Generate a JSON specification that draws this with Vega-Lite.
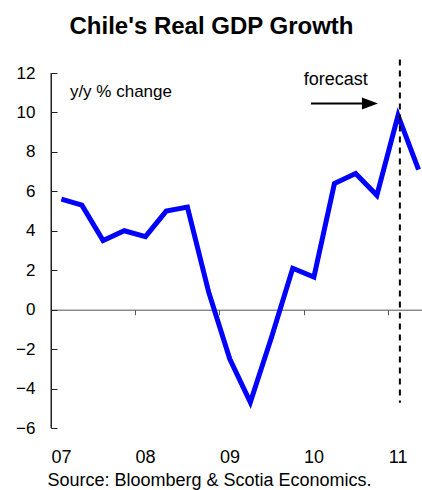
{
  "$schema": "https://vega.github.io/schema/vega-lite/v6.json",
  "width": 371,
  "height": 355,
  "autosize": {"type": "none"},
  "padding": {"left": 51, "top": 73, "right": 0, "bottom": 62},
  "background": "white",
  "config": {"view": {"stroke": null}, "font": "Liberation Sans", "axis": {"grid": false}},
  "title": {"text": "Chile's Real GDP Growth", "fontSize": 24, "fontWeight": "bold", "color": "black", "anchor": "middle", "dx": -25, "offset": 20},
  "resolve": {"axis": {"x": "independent", "y": "independent"}},
  "layer": [
    {
      "data": {"values": [
        {"quarter": "2007-02-15", "gdp": 5.6},
        {"quarter": "2007-05-15", "gdp": 5.3},
        {"quarter": "2007-08-15", "gdp": 3.5},
        {"quarter": "2007-11-15", "gdp": 4.0},
        {"quarter": "2008-02-15", "gdp": 3.7},
        {"quarter": "2008-05-15", "gdp": 5.0},
        {"quarter": "2008-08-15", "gdp": 5.2},
        {"quarter": "2008-11-15", "gdp": 0.9},
        {"quarter": "2009-02-15", "gdp": -2.5},
        {"quarter": "2009-05-15", "gdp": -4.7},
        {"quarter": "2009-08-15", "gdp": -1.4},
        {"quarter": "2009-11-15", "gdp": 2.1},
        {"quarter": "2010-02-15", "gdp": 1.65},
        {"quarter": "2010-05-15", "gdp": 6.4},
        {"quarter": "2010-08-15", "gdp": 6.9},
        {"quarter": "2010-11-15", "gdp": 5.8},
        {"quarter": "2011-02-15", "gdp": 9.85},
        {"quarter": "2011-05-15", "gdp": 7.1}
      ]},
      "mark": {"type": "line", "color": "#0000FF", "strokeWidth": 5, "strokeJoin": "miter"},
      "encoding": {
        "x": {
          "field": "quarter", "type": "temporal",
          "scale": {"domain": [{"year": 2007, "month": 1, "date": 1}, {"year": 2011, "month": 5, "date": 30}], "nice": false},
          "axis": {
            "orient": "bottom",
            "values": [{"year": 2007, "month": 1, "date": 1}, {"year": 2008, "month": 1, "date": 1}, {"year": 2009, "month": 1, "date": 1}, {"year": 2010, "month": 1, "date": 1}, {"year": 2011, "month": 1, "date": 1}],
            "format": "%y",
            "offset": -118.3,
            "domain": true,
            "ticks": true,
            "domainColor": "#555555",
            "tickColor": "#555555",
            "tickSize": 5,
            "labelOffset": 10,
            "labelPadding": 134,
            "labelFontSize": 18,
            "labelColor": "black",
            "labelFlush": false,
            "labelOverlap": false,
            "title": "Source: Bloomberg & Scotia Economics.",
            "titleFontSize": 18,
            "titleFontWeight": "normal",
            "titleColor": "black",
            "titleX": 158,
            "titleY": 171,
            "titleBaseline": "middle",
            "titleAlign": "center"
          }
        },
        "y": {
          "field": "gdp", "type": "quantitative",
          "scale": {"domain": [-6, 12], "nice": false, "zero": false},
          "axis": {
            "orient": "left",
            "values": [-6, -4, -2, 0, 2, 4, 6, 8, 10, 12],
            "title": null,
            "domain": true,
            "ticks": true,
            "domainColor": "#222222",
            "domainWidth": 1,
            "tickColor": "#222222",
            "tickWidth": 1,
            "tickSize": -6,
            "labelPadding": 22,
            "labelFontSize": 17,
            "labelColor": "black",
            "labelOverlap": false,
            "labelFlush": false
          }
        }
      }
    },
    {
      "data": {"values": [{"label": "y axis line"}]},
      "mark": {"type": "rule", "strokeWidth": 1, "color": "#222222"},
      "encoding": {
        "x": {"datum": {"year": 2007, "month": 1, "date": 1}, "type": "temporal", "axis": null},
        "y": {"datum": 12, "type": "quantitative", "axis": null},
        "y2": {"datum": -6}
      }
    },
    {
      "data": {"values": [{"label": "forecast start"}]},
      "mark": {"type": "rule", "strokeDash": [6, 5], "strokeWidth": 2, "color": "black"},
      "encoding": {
        "x": {"datum": {"year": 2011, "month": 2, "date": 23}, "type": "temporal", "axis": null},
        "y": {"datum": 12.68, "type": "quantitative", "axis": null},
        "y2": {"datum": -4.72}
      }
    },
    {
      "data": {"values": [{"label": "y/y % change"}]},
      "mark": {"type": "text", "align": "left", "baseline": "middle", "fontSize": 17, "color": "black"},
      "encoding": {
        "x": {"datum": {"year": 2007, "month": 3, "date": 24}, "type": "temporal", "axis": null},
        "y": {"datum": 11.05, "type": "quantitative", "axis": null},
        "text": {"field": "label"}
      }
    },
    {
      "data": {"values": [{"label": "forecast"}]},
      "mark": {"type": "text", "align": "center", "baseline": "middle", "fontSize": 18, "color": "black"},
      "encoding": {
        "x": {"datum": {"year": 2010, "month": 5, "date": 21}, "type": "temporal", "axis": null},
        "y": {"datum": 11.66, "type": "quantitative", "axis": null},
        "text": {"field": "label"}
      }
    },
    {
      "data": {"values": [{"label": "arrow"}]},
      "mark": {"type": "rule", "strokeWidth": 2, "color": "black"},
      "encoding": {
        "x": {"datum": {"year": 2010, "month": 2, "date": 2}, "type": "temporal", "axis": null},
        "x2": {"datum": {"year": 2010, "month": 10, "date": 16}},
        "y": {"datum": 10.45, "type": "quantitative", "axis": null}
      }
    },
    {
      "data": {"values": [{"label": "arrowhead"}]},
      "mark": {"type": "point", "shape": "M-1,-0.75L1,0L-1,0.75Z", "filled": true, "color": "black", "size": 256, "opacity": 1},
      "encoding": {
        "x": {"datum": {"year": 2010, "month": 10, "date": 16}, "type": "temporal", "axis": null},
        "y": {"datum": 10.45, "type": "quantitative", "axis": null}
      }
    }
  ]
}
